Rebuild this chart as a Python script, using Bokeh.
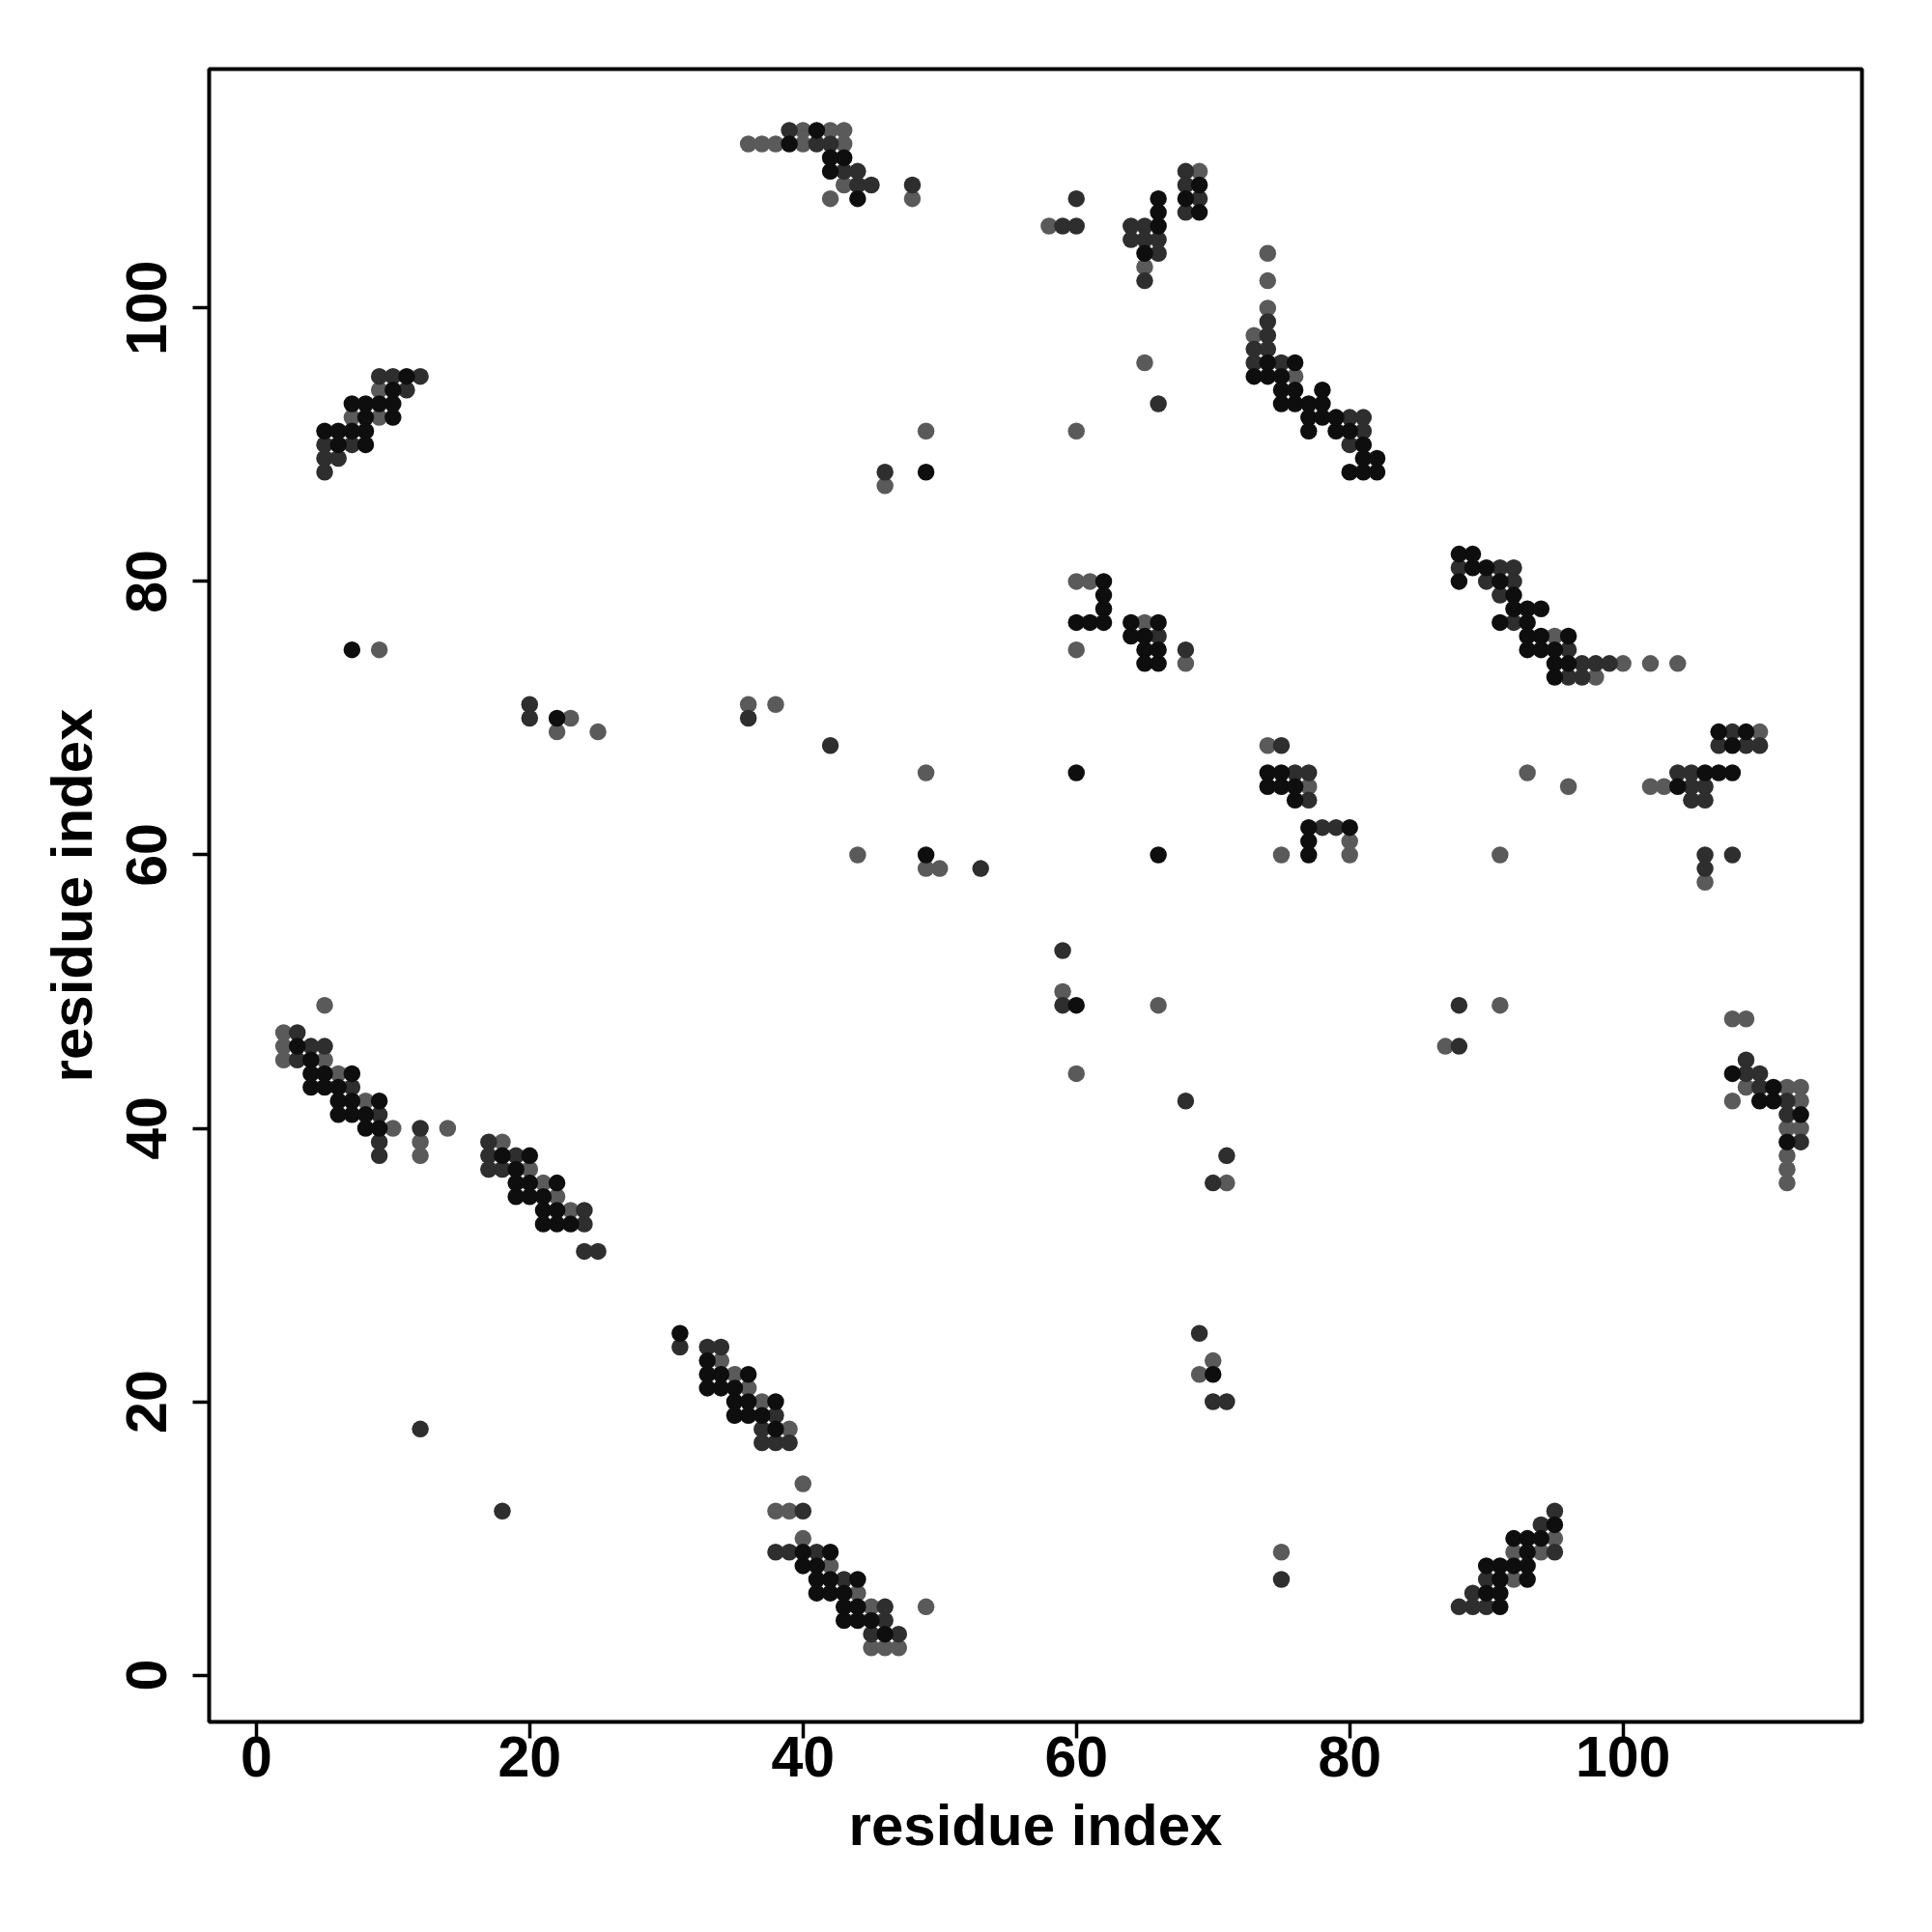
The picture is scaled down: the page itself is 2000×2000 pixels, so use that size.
from bokeh.plotting import figure
from bokeh.models import Range1d, FixedTicker
from bokeh.embed import file_html
from bokeh.resources import INLINE

# contact pairs (residue i, residue j), grouped by shade
black_contacts = [
    (11,95),(10,94),(7,93),(8,93),(9,93),(10,93),(8,92),(10,92),(5,91),(6,91),(7,91),(8,91),(6,90),(8,90),
    (3,46),(4,45),(4,44),(5,44),(7,44),(4,43),(5,43),(6,43),(6,42),(7,42),(9,42),(6,41),(7,41),(8,41),(8,40),(9,40),
    (18,38),(20,38),(19,37),(19,36),(20,36),(22,36),(19,35),(20,35),(21,35),(21,34),(22,34),(21,33),(22,33),(23,33),
    (31,25),(33,23),(33,22),(34,22),(36,22),(33,21),(34,21),(35,21),(35,20),(36,20),(38,20),(35,19),(36,19),(37,19),(38,18),
    (40,9),(42,9),(40,8),(41,8),(41,7),(42,7),(44,7),(41,6),(42,6),(43,6),(43,5),(44,5),(43,4),(44,4),(45,4),(46,3),
    (41,113),(39,112),(42,111),(43,111),(42,110),(44,108),
    (66,108),(66,107),(66,106),(65,104),(69,109),(68,108),(69,107),
    (74,96),(76,96),(73,95),(74,95),(75,95),(75,94),(76,94),(78,94),(75,93),(76,93),(77,93),(78,93),(77,92),(78,92),(79,92),
    (77,91),(79,91),(80,91),(81,90),(81,89),(82,89),(80,88),(81,88),(82,88),
    (88,82),(89,82),(89,81),(90,81),(88,80),(91,80),(92,79),(92,78),(93,78),(94,78),(91,77),(93,77),(93,76),(94,76),(96,76),
    (93,75),(94,75),(95,75),(95,74),(96,74),(95,73),
    (62,80),(62,79),(62,78),(60,77),(61,77),(62,77),(64,77),(66,77),(64,76),(65,76),(65,75),(66,75),(65,74),(66,74),
    (74,66),(75,66),(74,65),(75,65),(76,65),(76,64),(77,62),(80,62),(77,61),(77,60),
    (107,69),(109,69),(108,68),(106,66),(107,66),(108,66),(104,65),
    (108,44),(111,43),(110,42),(111,42),(113,41),(112,39),
    (95,11),(92,10),(93,10),(94,10),(93,9),(90,8),(91,8),(92,8),(93,8),(91,7),(93,7),(90,6),(91,6),(91,5),
    (7,75),(22,70),(49,88),(49,60),(60,66),(66,60),(60,49),(70,22),
]

dark_contacts = [
    (9,95),(10,95),(12,95),(11,94),(5,90),(7,90),(5,89),(6,89),(5,88),
    (3,47),(4,46),(5,46),(3,45),(7,43),(9,41),(12,40),(9,39),(9,38),(17,39),(17,38),(19,38),(17,37),(18,37),
    (24,34),(24,33),(24,31),(25,31),
    (31,24),(33,24),(34,24),(38,19),(37,18),(37,17),(38,17),(39,17),(40,12),(38,9),(39,9),(41,9),(43,7),(46,5),(46,4),(45,3),(47,3),
    (39,113),(41,112),(42,112),(43,110),(44,110),(44,109),(45,109),(48,109),
    (60,108),(59,106),(60,106),(64,106),(65,106),(64,105),(65,105),(66,105),(66,104),(65,102),(68,110),(68,109),(69,108),(68,107),
    (74,99),(74,98),(73,97),(74,97),(73,96),(75,96),(80,92),(81,92),(81,91),(80,90),
    (88,81),(91,81),(92,81),(90,80),(92,80),(91,79),(92,77),(96,75),(97,74),(98,74),(99,74),(96,73),(97,73),
    (66,76),(68,75),
    (75,68),(76,66),(77,66),(77,64),(78,62),(79,62),
    (108,69),(107,68),(109,68),(110,68),(104,66),(105,66),(105,65),(106,65),(105,64),(106,64),(106,60),(108,60),(106,59),
    (109,45),(109,44),(110,44),(110,43),(112,42),(112,41),(113,39),
    (95,12),(94,11),(95,9),(90,7),(89,6),(88,5),(89,5),(90,5),
    (20,71),(20,70),(36,70),(42,68),(46,88),(53,59),(12,18),(18,12),(66,93),(59,53),(59,49),(68,42),(70,36),(71,38),
    (69,25),(70,20),(71,20),(75,7),(88,46),(88,49),
]

gray_contacts = [
    (9,94),(7,92),(9,92),
    (5,49),(2,47),(2,46),(2,45),(5,45),(6,44),(8,42),(10,40),(14,40),(12,39),(12,38),(18,39),(20,37),(21,36),(22,35),(23,34),
    (34,23),(35,22),(36,21),(37,20),(39,18),(40,14),(38,12),(39,12),(40,10),(42,8),(44,6),(45,5),(49,5),(45,2),(46,2),(47,2),
    (40,113),(42,113),(43,113),(36,112),(37,112),(38,112),(40,112),(43,112),(43,109),(42,108),(48,108),
    (58,106),(65,103),(69,110),
    (74,104),(74,102),(74,100),(73,98),(76,95),
    (95,76),(100,74),(102,74),(104,74),(98,73),
    (60,80),(61,80),(65,77),(60,75),(68,74),
    (74,68),(77,65),(80,61),(75,60),(80,60),
    (110,69),(102,65),(103,65),(106,58),
    (108,48),(109,48),(109,43),(112,43),(113,43),(108,42),(113,42),(112,40),(113,40),(112,38),(112,37),(112,36),
    (95,10),(92,9),(94,9),(92,7),
    (9,75),(22,69),(23,70),(25,69),(36,71),(38,71),(46,87),(49,91),(49,66),(44,60),(49,59),(50,59),(60,91),(65,96),
    (59,50),(60,44),(66,49),(71,36),(69,22),(70,23),(75,9),(87,46),(91,49),(91,60),(93,66),(96,65),
]

tick_values = [0, 20, 40, 60, 80, 100]
axis_title = "residue index"

FONT = "Liberation Sans"

p = figure(width=1984, height=1984, output_backend="svg", toolbar_location=None,
           x_range=Range1d(-3.45, 117.48), y_range=Range1d(-3.42, 117.48),
           min_border_left=216, min_border_right=57, min_border_top=71, min_border_bottom=202)

p.outline_line_color = "black"
p.outline_line_width = 4
p.grid.visible = False
p.background_fill_color = "white"
p.border_fill_color = "white"

for ax in (p.xaxis[0], p.yaxis[0]):
    ax.ticker = FixedTicker(ticks=tick_values)
    ax.axis_line_color = None
    ax.major_tick_line_color = "black"
    ax.major_tick_line_width = 3.5
    ax.major_tick_out = 17
    ax.major_tick_in = 0
    ax.minor_tick_line_color = None
    ax.major_label_text_font = FONT
    ax.major_label_text_font_style = "bold"
    ax.major_label_text_font_size = "59px"
    ax.major_label_text_color = "black"
    ax.axis_label = axis_title
    ax.axis_label_text_font = FONT
    ax.axis_label_text_font_style = "bold"
    ax.axis_label_text_font_size = "60px"
    ax.axis_label_text_color = "black"

p.xaxis.major_label_standoff = -2
p.xaxis.axis_label_standoff = 14
p.yaxis.major_label_orientation = "vertical"
p.yaxis.major_label_standoff = 27
p.yaxis.axis_label_standoff = 21

for contacts, color in ((gray_contacts, "#5a5a5a"), (dark_contacts, "#2e2e2e"), (black_contacts, "#0e0e0e")):
    xs = [c[0] for c in contacts]
    ys = [c[1] for c in contacts]
    p.scatter(xs, ys, size=17.5, fill_color=color, line_color=None)

open("out.html", "w").write(file_html(p, INLINE))
